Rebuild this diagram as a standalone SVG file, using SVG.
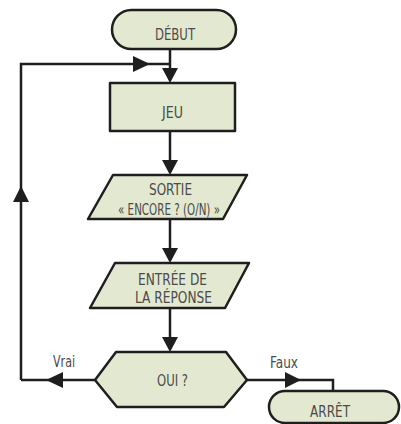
<svg xmlns="http://www.w3.org/2000/svg" width="401" height="424" viewBox="0 0 401 424">
<defs>
<style>
.n{fill:#e3e9d0;stroke:#1e1e1e;stroke-width:2.5;stroke-linejoin:round}
.t{font-family:"DejaVu Sans Condensed","Liberation Sans",sans-serif;font-stretch:condensed;font-size:15px;fill:#4a4a4a;text-anchor:middle}
.c{fill:none;stroke:#1e1e1e;stroke-width:2.5}
.a{fill:#1e1e1e}
</style>
</defs>
<rect width="401" height="424" fill="#ffffff"/>
<g id="connectors">
<path class="c" d="M170 49V80"/>
<path class="a" d="M162 68L178 68L170 83Z"/>
<path class="c" d="M21 380V64H170"/>
<path class="a" d="M133 56L133 72L150 64Z"/>
<path class="a" d="M13 202L29 202L21 186Z"/>
<path class="c" d="M170 131V172"/>
<path class="a" d="M162 160L178 160L170 175Z"/>
<path class="c" d="M170 219V260"/>
<path class="a" d="M162 248L178 248L170 263Z"/>
<path class="c" d="M170 308V349"/>
<path class="a" d="M162 337L178 337L170 352Z"/>
<path class="c" d="M95 380H21"/>
<path class="a" d="M63 372L63 388L46 380Z"/>
<path class="c" d="M247 380H333V391"/>
<path class="a" d="M285 372L285 388L301 380Z"/>
<text class="t" x="64" y="367" textLength="22" lengthAdjust="spacingAndGlyphs">Vrai</text>
<text class="t" x="284" y="368" textLength="28" lengthAdjust="spacingAndGlyphs">Faux</text>
</g>
<g id="debut">
<rect class="n" x="112" y="10" width="124" height="39" rx="19.5"/>
<text class="t" x="175" y="40" textLength="40" lengthAdjust="spacingAndGlyphs">DÉBUT</text>
</g>
<g id="jeu">
<rect class="n" x="110" y="83" width="125" height="48"/>
<text class="t" x="172.5" y="118" textLength="21" lengthAdjust="spacingAndGlyphs">JEU</text>
</g>
<g id="sortie">
<polygon class="n" points="113,175 247,175 223,219 88,219"/>
<text class="t" x="170.5" y="195" textLength="43" lengthAdjust="spacingAndGlyphs">SORTIE</text>
<text class="t" x="169" y="215" textLength="102" lengthAdjust="spacingAndGlyphs">« ENCORE ? (O/N) »</text>
</g>
<g id="entree">
<polygon class="n" points="115,263 249,263 225,308 90,308"/>
<text class="t" x="172.5" y="285" textLength="69" lengthAdjust="spacingAndGlyphs">ENTRÉE DE</text>
<text class="t" x="173.5" y="303" textLength="77" lengthAdjust="spacingAndGlyphs">LA RÉPONSE</text>
</g>
<g id="oui">
<polygon class="n" points="95,380 116,352 226,352 247,380 224,407 117,407"/>
<text class="t" x="172.5" y="386" textLength="31" lengthAdjust="spacingAndGlyphs">OUI ?</text>
</g>
<g id="arret">
<rect class="n" x="269" y="391" width="130" height="32" rx="16"/>
<text class="t" x="330" y="417" textLength="40" lengthAdjust="spacingAndGlyphs">ARRÊT</text>
</g>
</svg>
